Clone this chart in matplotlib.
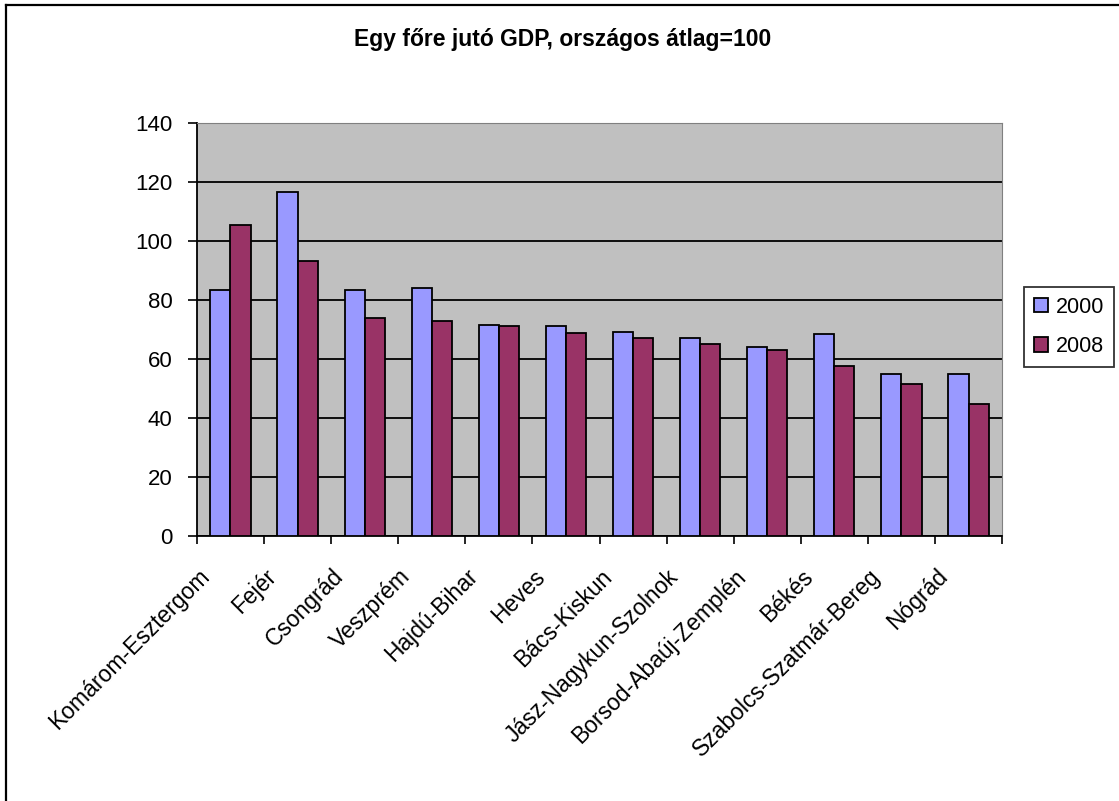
import numpy as np
import matplotlib.pyplot as plt
from matplotlib.lines import Line2D
from matplotlib.transforms import ScaledTranslation

plt.rcParams['font.family'] = ['Liberation Sans', 'DejaVu Sans']

counties = ["Komárom-Esztergom", "Fejér", "Csongrád", "Veszprém", "Hajdú-Bihar",
            "Heves", "Bács-Kiskun", "Jász-Nagykun-Szolnok", "Borsod-Abaúj-Zemplén",
            "Békés", "Szabolcs-Szatmár-Bereg", "Nógrád"]
gdp_2000 = [83.2, 116.6, 83.2, 84.0, 71.6, 71.0, 69.1, 67.0, 64.2, 68.5, 55.0, 55.0]
gdp_2008 = [105.4, 93.2, 73.7, 73.0, 71.0, 68.9, 67.0, 65.0, 62.9, 57.7, 51.6, 44.8]
years = ["2000", "2008"]

fig = plt.figure(figsize=(11.19, 8.01), dpi=100)
ax = fig.add_axes([0.176, 0.331, 0.7195, 0.5155])

x = np.arange(len(counties))
w = 0.3
b1 = ax.bar(x - w / 2, gdp_2000, w, color='#9999FF', edgecolor='black', linewidth=1.3, label=years[0], zorder=3)
b2 = ax.bar(x + w / 2, gdp_2008, w, color='#993366', edgecolor='black', linewidth=1.3, label=years[1], zorder=3)

ax.set_facecolor('#C0C0C0')
ax.set_xlim(-0.5, len(counties) - 0.5)
ax.set_ylim(0, 140)
ax.set_yticks(range(0, 141, 20))
ax.yaxis.grid(True, color='black', linewidth=1.3, zorder=1)
ax.set_axisbelow(True)

# ticks between categories, labels at centers
ax.set_xticks(np.arange(-0.5, len(counties), 1))
ax.set_xticklabels([])
ax.set_xticks(x, minor=True)
ax.set_xticklabels(counties, minor=True, rotation=45, ha='right', rotation_mode='anchor', fontsize=16.5)
ax.tick_params(axis='x', which='minor', length=0, pad=0)
ax.tick_params(axis='x', which='major', length=6, width=1.2, direction='out')
ax.tick_params(axis='y', length=6.5, width=1.2, labelsize=16, pad=11)
shift = ScaledTranslation(-0.33, -0.29, fig.dpi_scale_trans)
for lab in ax.get_xticklabels(minor=True):
    lab.set_transform(lab.get_transform() + shift)

for side in ['top', 'right']:
    ax.spines[side].set_color('#808080')
for side in ['left', 'bottom']:
    ax.spines[side].set_linewidth(1.3)

fig.text(0.503, 0.951, "Egy főre jutó GDP, országos átlag=100", ha='center', va='center',
         fontsize=16.5, fontweight='bold')

leg = fig.legend(handles=[b1, b2], labels=years, loc='upper left',
                 bbox_to_anchor=(0.915, 0.6417), fontsize=15.5, frameon=True,
                 fancybox=False, edgecolor='black', handlelength=0.67, handleheight=0.67,
                 handletextpad=0.38, borderpad=0.45, labelspacing=0.85, borderaxespad=0)
leg.get_frame().set_linewidth(1.3)

# outer chart frame (only top and left edges fall inside the picture)
fig.add_artist(Line2D([0.005, 1.0], [0.9935, 0.9935], transform=fig.transFigure, color='black', linewidth=1.6))
fig.add_artist(Line2D([0.005, 0.005], [0.0, 0.9935], transform=fig.transFigure, color='black', linewidth=1.6))

fig.savefig('out.png', dpi=100)
